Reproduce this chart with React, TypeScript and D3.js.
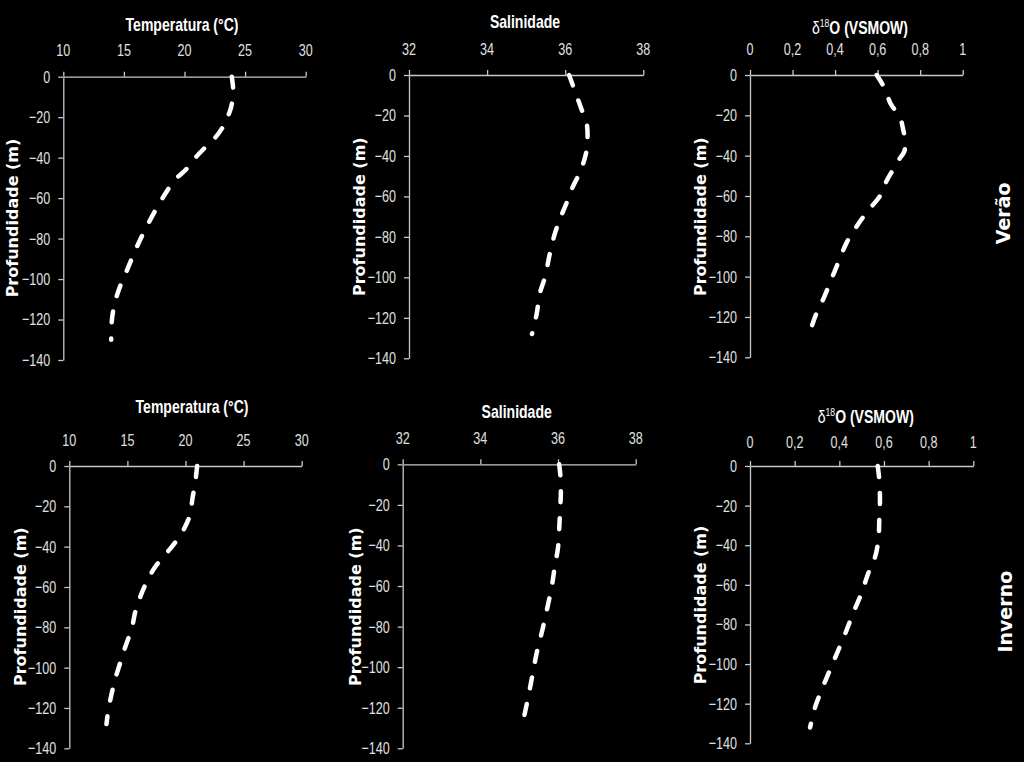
import React, { useEffect, useRef } from 'react';
import * as d3 from 'd3';

// tick labels
const depthTicks = [0, -20, -40, -60, -80, -100, -120, -140];
const tempTicks = [10, 15, 20, 25, 30];
const salTicks = [32, 34, 36, 38];
const o18Ticks = [0, 0.2, 0.4, 0.6, 0.8, 1];

// Verão
const tempVeraoDepth = [0, -5, -10, -16, -20, -24, -30, -35, -40, -46, -51, -58, -65, -75, -85, -95, -105, -113, -121, -130];
const tempVeraoValue = [23.9, 24.0, 24.0, 23.8, 23.55, 23.25, 22.55, 21.7, 20.9, 20.1, 19.2, 18.4, 17.7, 16.8, 16.0, 15.3, 14.6, 14.2, 14.0, 13.95];

const salVeraoDepth = [0, -8, -17, -24, -32, -39, -48, -55, -63, -71, -78, -88, -100, -108, -118, -128];
const salVeraoValue = [36.1, 36.25, 36.42, 36.55, 36.57, 36.53, 36.38, 36.2, 36.04, 35.87, 35.74, 35.61, 35.48, 35.35, 35.27, 35.15];

const o18VeraoDepth = [0, -7, -14, -21, -27, -33, -38, -42, -47, -53, -60, -68, -75, -83, -93, -101, -111, -118, -128];
const o18VeraoValue = [0.596, 0.635, 0.66, 0.705, 0.72, 0.73, 0.725, 0.7, 0.672, 0.64, 0.611, 0.549, 0.502, 0.455, 0.415, 0.384, 0.345, 0.313, 0.28];

// Inverno
const tempInvernoDepth = [0, -9, -16, -24, -32, -38, -43, -50, -57, -65, -73, -80, -90, -98, -106, -113, -121, -128];
const tempInvernoValue = [21.0, 20.82, 20.6, 20.4, 19.8, 19.1, 18.4, 17.4, 16.7, 16.1, 15.65, 15.4, 14.8, 14.36, 13.93, 13.64, 13.36, 13.2];

const salInvernoDepth = [0, -8, -16, -24, -32, -41, -50, -60, -72, -83, -93, -103, -114, -125];
const salInvernoValue = [36.03, 36.07, 36.07, 36.05, 36.03, 36.0, 35.92, 35.84, 35.71, 35.58, 35.45, 35.35, 35.24, 35.12];

const o18InvernoDepth = [0, -7, -17, -27, -37, -46, -54, -64, -74, -85, -95, -103, -113, -122, -132];
const o18InvernoValue = [0.572, 0.579, 0.582, 0.579, 0.575, 0.56, 0.53, 0.5, 0.463, 0.425, 0.388, 0.358, 0.321, 0.291, 0.269];

const width = 1024;
const height = 762;
const axisColor = '#c8c8c8';
const narrowFont = "'Liberation Sans', Arial, sans-serif";
const boldFont = "'DejaVu Sans', Verdana, sans-serif";
const tickScale = 0.74; // squeeze labels to look like the narrow original font
const titleScale = 0.78;

type Panel = {
    title: string;
    ticks: number[];
    depth: number[];
    value: number[];
    left: number; right: number; top: number; bottom: number;
    titleX: number; titleY: number; tickY: number;
    yTitleX: number; yTitleY: number;
};

const panels: Panel[] = [
    { title: 'Temperatura (°C)', ticks: tempTicks, depth: tempVeraoDepth, value: tempVeraoValue,
      left: 63.3, right: 305.7, top: 76.7, bottom: 360, titleX: 182, titleY: 25, tickY: 50, yTitleX: 12, yTitleY: 218 },
    { title: 'Salinidade', ticks: salTicks, depth: salVeraoDepth, value: salVeraoValue,
      left: 409, right: 643.3, top: 75, bottom: 358.3, titleX: 525, titleY: 22, tickY: 48.5, yTitleX: 359, yTitleY: 216.7 },
    { title: 'd18O', ticks: o18Ticks, depth: o18VeraoDepth, value: o18VeraoValue,
      left: 750, right: 962.7, top: 75, bottom: 357.3, titleX: 860, titleY: 28, tickY: 48.5, yTitleX: 700, yTitleY: 216.7 },
    { title: 'Temperatura (°C)', ticks: tempTicks, depth: tempInvernoDepth, value: tempInvernoValue,
      left: 69.3, right: 301.7, top: 466, bottom: 748.3, titleX: 192, titleY: 407, tickY: 440, yTitleX: 20, yTitleY: 606.7 },
    { title: 'Salinidade', ticks: salTicks, depth: salInvernoDepth, value: salInvernoValue,
      left: 402.7, right: 635.7, top: 464.3, bottom: 748.3, titleX: 516.7, titleY: 411.7, tickY: 438, yTitleX: 355, yTitleY: 606.7 },
    { title: 'd18O', ticks: o18Ticks, depth: o18InvernoDepth, value: o18InvernoValue,
      left: 750, right: 973.3, top: 466, bottom: 743.3, titleX: 865.8, titleY: 416.7, tickY: 441.7, yTitleX: 700, yTitleY: 605 },
];

const fmt = (v: number) => String(v).replace('.', ',');

const App = () => {
    const svgRef = useRef<SVGSVGElement>(null);

    useEffect(() => {
        const svg = d3.select(svgRef.current);
        svg.selectAll('*').remove();

        svg.append('rect').attr('width', width).attr('height', height).attr('fill', '#000');

        panels.forEach((p) => {
            const x = d3.scaleLinear()
                .domain([p.ticks[0], p.ticks[p.ticks.length - 1]])
                .range([p.left, p.right]);
            const y = d3.scaleLinear().domain([0, -140]).range([p.top, p.bottom]);

            const g = svg.append('g');

            // x axis on top, labels drawn separately
            const xAx = g.append('g')
                .attr('transform', `translate(0, ${p.top})`)
                .call(d3.axisTop(x).tickValues(p.ticks).tickSize(5).tickSizeOuter(0));
            xAx.selectAll('text').remove();
            g.selectAll('.xlab')
                .data(p.ticks)
                .enter()
                .append('text')
                .attr('transform', (d) => `translate(${x(d)}, ${p.tickY}) scale(${tickScale}, 1)`)
                .attr('dy', '0.36em')
                .attr('text-anchor', 'middle')
                .attr('fill', '#e0e0e0')
                .style('font-family', narrowFont)
                .style('font-size', '17px')
                .text((d) => fmt(d));

            // y axis
            const yAx = g.append('g')
                .attr('transform', `translate(${p.left}, 0)`)
                .call(d3.axisLeft(y).tickValues(depthTicks).tickSize(5).tickSizeOuter(0));
            yAx.selectAll('text')
                .attr('x', -13 / tickScale)
                .attr('transform', `scale(${tickScale}, 1)`)
                .attr('fill', '#e0e0e0')
                .style('font-family', narrowFont)
                .style('font-size', '17px');

            g.selectAll('.domain, .tick line').attr('stroke', axisColor).attr('stroke-width', 1.3);

            // title
            const t = g.append('text')
                .attr('transform', `translate(${p.titleX}, ${p.titleY}) scale(${titleScale}, 1)`)
                .attr('dy', '0.36em')
                .attr('text-anchor', 'middle')
                .attr('fill', '#fff')
                .style('font-family', narrowFont)
                .style('font-weight', 'bold')
                .style('font-size', '18px');
            if (p.title === 'd18O') {
                t.append('tspan').style('font-weight', 'normal').text('δ');
                t.append('tspan').attr('dy', -7).style('font-size', '11px').style('font-weight', 'normal').text('18');
                t.append('tspan').attr('dy', 7).text('O (VSMOW)');
            } else {
                t.text(p.title);
            }

            // y title
            g.append('text')
                .attr('transform', `translate(${p.yTitleX}, ${p.yTitleY}) rotate(-90)`)
                .attr('dy', '0.35em')
                .attr('text-anchor', 'middle')
                .attr('fill', '#fff')
                .style('font-family', boldFont)
                .style('font-weight', 'bold')
                .style('font-size', '16px')
                .text('Profundidade (m)');

            // profile line
            const pts = p.depth.map((d, i) => [p.value[i], d] as [number, number]);
            const line = d3.line<[number, number]>()
                .x((d) => x(d[0]))
                .y((d) => y(d[1]))
                .curve(d3.curveCatmullRom.alpha(0.5));

            g.append('path')
                .datum(pts)
                .attr('fill', 'none')
                .attr('stroke', '#fff')
                .attr('stroke-width', 4.5)
                .attr('stroke-linecap', 'round')
                .attr('stroke-dasharray', '11 16')
                .attr('d', line);
        });

        // season labels
        const seasons = [
            { label: 'Verão', x: 1003.3, y: 213.3 },
            { label: 'Inverno', x: 1005, y: 611.7 },
        ];
        svg.selectAll('.season')
            .data(seasons)
            .enter()
            .append('text')
            .attr('transform', (d) => `translate(${d.x}, ${d.y}) rotate(-90)`)
            .attr('dy', '0.35em')
            .attr('text-anchor', 'middle')
            .attr('fill', '#fff')
            .style('font-family', boldFont)
            .style('font-weight', 'bold')
            .style('font-size', '19px')
            .text((d) => d.label);
    }, []);

    return (
        <svg
            ref={svgRef}
            width={width}
            height={height}
            style={{ position: 'absolute', left: 0, top: 0, display: 'block' }}
        ></svg>
    );
};

export default App;
